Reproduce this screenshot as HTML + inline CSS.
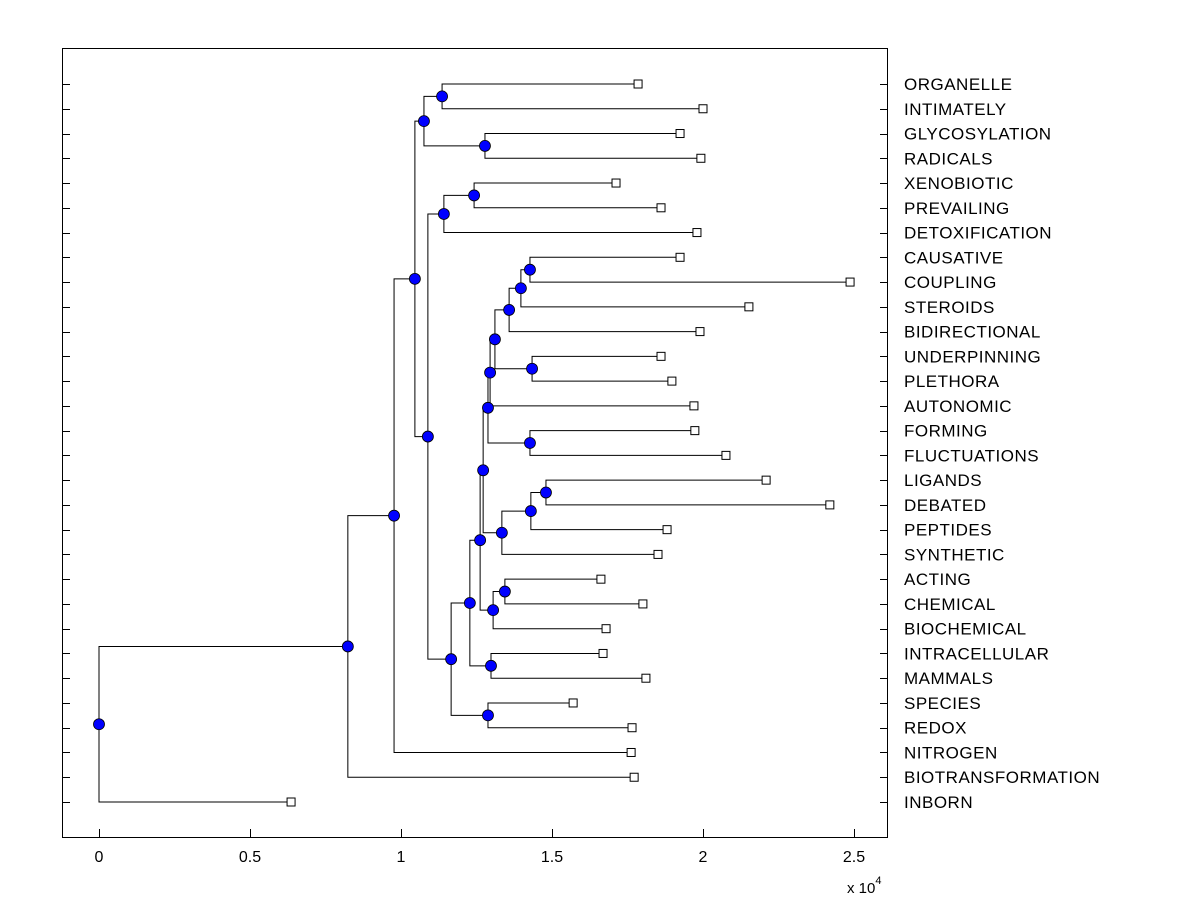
<!DOCTYPE html>
<html><head><meta charset="utf-8"><style>
body{margin:0;background:#fff;}
svg text{font-family:"Liberation Sans",Arial,sans-serif;}
</style></head><body>
<svg id="chart" width="1200" height="900" xmlns="http://www.w3.org/2000/svg">
<rect x="0" y="0" width="1200" height="900" fill="#fff"/>
<g id="marks"></g>
<rect x="62.5" y="48.5" width="825" height="789" fill="none" stroke="#000" stroke-width="1"/>
<g id="axes"></g>
</svg>
<script>
// leaf labels top-to-bottom and their heights (x10^4)
const leafLabels = ["ORGANELLE","INTIMATELY","GLYCOSYLATION","RADICALS","XENOBIOTIC","PREVAILING","DETOXIFICATION","CAUSATIVE","COUPLING","STEROIDS","BIDIRECTIONAL","UNDERPINNING","PLETHORA","AUTONOMIC","FORMING","FLUCTUATIONS","LIGANDS","DEBATED","PEPTIDES","SYNTHETIC","ACTING","CHEMICAL","BIOCHEMICAL","INTRACELLULAR","MAMMALS","SPECIES","REDOX","NITROGEN","BIOTRANSFORMATION","INBORN"];
const leafValues = [1.785,2.0,1.924,1.993,1.712,1.861,1.98,1.924,2.487,2.152,1.99,1.861,1.897,1.97,1.973,2.076,2.209,2.42,1.881,1.851,1.662,1.801,1.679,1.669,1.811,1.57,1.765,1.762,1.772,0.636];
// merges: [childA, childB] where numbers 0..29 = leaves, 30+ = earlier merges
const mergeChildren = [[0,1],[2,3],[30,31],[4,5],[33,6],[7,8],[35,9],[36,10],[11,12],[37,38],[39,13],[14,15],[40,41],[16,17],[43,18],[44,19],[42,45],[20,21],[47,22],[46,48],[23,24],[49,50],[25,26],[51,52],[34,53],[32,54],[27,55],[28,56],[29,57]];
const mergeHeights = [1.136,1.278,1.076,1.242,1.142,1.427,1.397,1.358,1.434,1.311,1.295,1.427,1.288,1.48,1.43,1.334,1.272,1.344,1.305,1.262,1.298,1.228,1.288,1.166,1.089,1.046,0.977,0.824,0];
const xTicks = [0,0.5,1,1.5,2,2.5];
const xTickLabels = ["0","0.5","1","1.5","2","2.5"];

const NS="http://www.w3.org/2000/svg";
const X0=99, XS=302, Y0=84, YS=(802-84)/29;
const xs=v=>X0+v*XS, ys=i=>Y0+i*YS;
const marks=document.getElementById('marks'), axes=document.getElementById('axes');
function mk(tag,attrs,parent){const e=document.createElementNS(NS,tag);for(const k in attrs)e.setAttribute(k,attrs[k]);parent.appendChild(e);return e;}
const nx=[],ny=[];
leafValues.forEach((v,i)=>{nx[i]=xs(v);ny[i]=ys(i);});
mergeChildren.forEach((c,m)=>{const id=30+m;nx[id]=xs(mergeHeights[m]);ny[id]=(ny[c[0]]+ny[c[1]])/2;});
mergeChildren.forEach((c,m)=>{
  const id=30+m;
  const p=mk('path',{d:`M${nx[c[0]]},${ny[c[0]]}H${nx[id]}V${ny[c[1]]}H${nx[c[1]]}`,fill:'none',stroke:'#000','stroke-width':1},marks);
  
  
});
leafValues.forEach((v,i)=>{
  const r=mk('rect',{x:nx[i]-4,y:ny[i]-4,width:8,height:8,fill:'#fff',stroke:'#000','stroke-width':1},marks);
  
  
});
mergeChildren.forEach((c,m)=>{
  const id=30+m;
  const d=mk('circle',{cx:nx[id],cy:ny[id],r:5.5,fill:'#0000ff',stroke:'#000','stroke-width':0.8},marks);
  
  
});
leafLabels.forEach((l,i)=>{
  const y=Math.round(ys(i))+0.5;
  const t1=mk('line',{x1:62,x2:70,y1:y,y2:y,stroke:'#000'},axes);
  
  
  const t2=mk('line',{x1:880,x2:888,y1:y,y2:y,stroke:'#000'},axes);
  
  
  const t=mk('text',{x:904,y:ys(i)+6,'font-size':17,'letter-spacing':0.5},axes);
  t.textContent=l;
  
  
});
xTicks.forEach((v,i)=>{
  const x=Math.round(xs(v))+0.5;
  const a=mk('line',{x1:x,x2:x,y1:829,y2:838,stroke:'#000'},axes);
  
  
  const t=mk('text',{x:xs(v),y:862,'font-size':16,'text-anchor':'middle'},axes);
  t.textContent=xTickLabels[i];
  
  
});
const e=mk('text',{x:847,y:893,'font-size':15},axes);
e.innerHTML='x 10<tspan dy="-9" font-size="11">4</tspan>';


</script>
</body></html>
